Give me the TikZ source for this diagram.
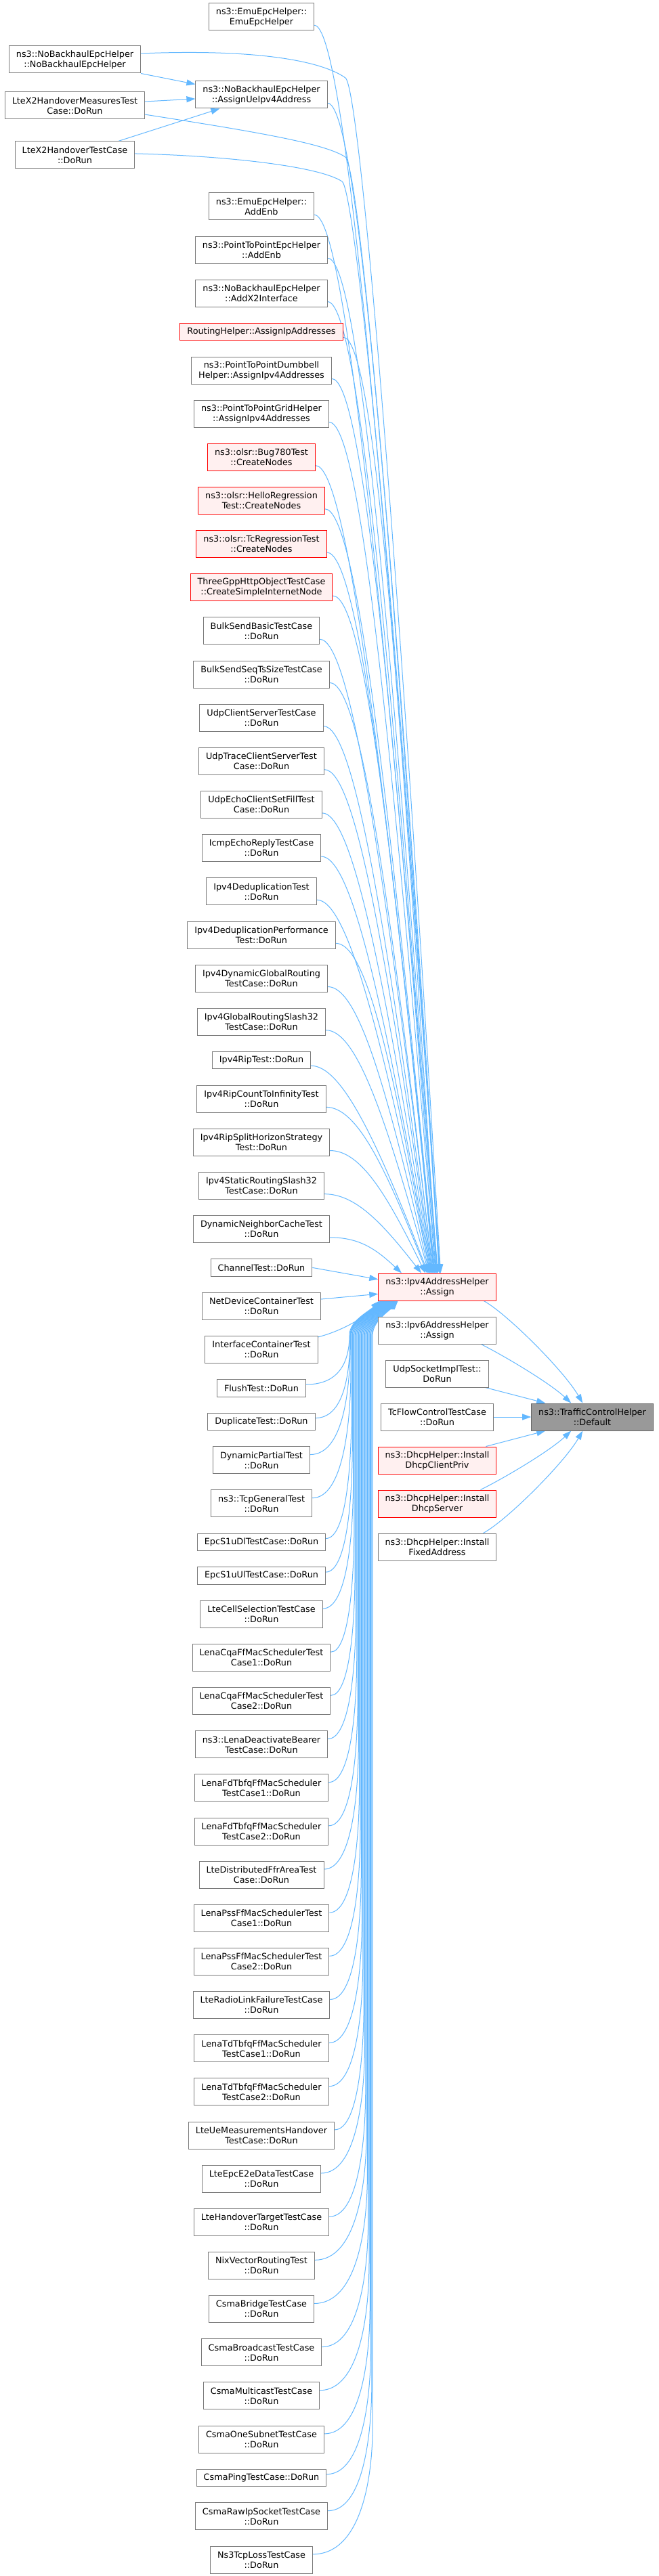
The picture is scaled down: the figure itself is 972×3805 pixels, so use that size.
\documentclass[tikz,border=0pt]{standalone}
\usepackage{fontspec}
\setmainfont{DejaVu Sans}
\usetikzlibrary{calc,arrows.meta}
\pgfdeclarelayer{bg}
\pgfsetlayers{bg,main}
\definecolor{eblue}{HTML}{63B8FF}
\definecolor{bgray}{HTML}{7A7A7A}
\definecolor{rfill}{HTML}{FFF0F0}
\definecolor{cfill}{HTML}{999999}
\definecolor{cdraw}{HTML}{666666}
\tikzset{
 nd/.style={draw=bgray, fill=white, line width=1pt, inner xsep=10.5pt, inner ysep=0pt,
   minimum height=40pt, align=center, font=\fontsize{12.8}{15}\selectfont, text=black},
 one/.style={minimum height=25.5pt},
 hl/.style={draw=red, fill=rfill},
 cur/.style={draw=cdraw, fill=cfill},
 edge/.style={draw=eblue, line width=1pt, -{Triangle[length=13pt,width=9pt]}},
}
\newcommand\UpEdge[2]{\draw[edge] let \p1=($(#1.north east)!0.8!(#1.south east)$), \p2=(ipv4.north west) in
  (\p1) .. controls ({\x1+45pt},\y1) and ({#2pt-0.6*(#2pt-\x1-45pt)},{\y1+0.35*(\y2-\y1)}) .. (#2pt,\y2);}
\newcommand\LowEdge[3]{\draw[edge] let \p1=($(#1.north east)!0.3!(#1.south east)$), \p2=(ipv4.south west) in
  (\p1) .. controls ({\x1+0.8*(#2pt-\x1)},\y1) and (#2pt,{\y1+110pt}) .. (#2pt,{\y1+190pt})
  -- (#2pt,{\y2-50pt}) .. controls (#2pt,{\y2-30pt}) and ({#3pt-0.35*(#3pt-#2pt)},{\y2-15pt}) .. (#3pt,\y2);}
\newcommand\LowNear[3]{\draw[edge] let \p1=($(#1.north east)!0.3!(#1.south east)$), \p2=(ipv4.south west) in
  (\p1) .. controls ({\x1+0.8*(#2pt-\x1)},\y1) and (#2pt,{\y1+0.5*(\y2-50pt-\y1)}) .. (#2pt,{\y2-50pt})
  .. controls (#2pt,{\y2-30pt}) and ({#3pt-0.35*(#3pt-#2pt)},{\y2-15pt}) .. (#3pt,\y2);}
\begin{document}
\begin{tikzpicture}[x=1pt,y=1pt]
\begin{pgfonlayer}{bg}
\fill[white] (0,0) rectangle (972,-3805);
\end{pgfonlayer}
\useasboundingbox (0,0) rectangle (972,-3805);

% column 0
\node[nd] (a1) at (110.5,-88) {ns3::NoBackhaulEpcHelper\\::NoBackhaulEpcHelper};
\node[nd] (a2) at (110.5,-156) {LteX2HandoverMeasuresTest\\Case::DoRun};
\node[nd] (a3) at (110.5,-229) {LteX2HandoverTestCase\\::DoRun};

% column 1
\node[nd] (c1) at (386,-25) {ns3::EmuEpcHelper::\\EmuEpcHelper};
\node[nd] (c2) at (386,-140) {ns3::NoBackhaulEpcHelper\\::AssignUeIpv4Address};
\node[nd] (c3) at (386,-305) {ns3::EmuEpcHelper::\\AddEnb};
\node[nd] (c4) at (386,-369.15) {ns3::PointToPointEpcHelper\\::AddEnb};
\node[nd] (c5) at (386,-433.3) {ns3::NoBackhaulEpcHelper\\::AddX2Interface};
\node[nd,one,hl] (c6) at (386,-490.2) {RoutingHelper::AssignIpAddresses};
\node[nd] (c7) at (386,-547.05) {ns3::PointToPointDumbbell\\Helper::AssignIpv4Addresses};
\node[nd] (c8) at (386,-611.2) {ns3::PointToPointGridHelper\\::AssignIpv4Addresses};
\node[nd,hl] (c9) at (386,-675.35) {ns3::olsr::Bug780Test\\::CreateNodes};
\node[nd,hl] (c10) at (386,-739.5) {ns3::olsr::HelloRegression\\Test::CreateNodes};
\node[nd,hl] (c11) at (386,-803.65) {ns3::olsr::TcRegressionTest\\::CreateNodes};
\node[nd,hl] (c12) at (386,-867.8) {ThreeGppHttpObjectTestCase\\::CreateSimpleInternetNode};
\node[nd] (c13) at (386,-931.95) {BulkSendBasicTestCase\\::DoRun};
\node[nd] (c14) at (386,-996.1) {BulkSendSeqTsSizeTestCase\\::DoRun};
\node[nd] (c15) at (386,-1060.25) {UdpClientServerTestCase\\::DoRun};
\node[nd] (c16) at (386,-1124.4) {UdpTraceClientServerTest\\Case::DoRun};
\node[nd] (c17) at (386,-1188.55) {UdpEchoClientSetFillTest\\Case::DoRun};
\node[nd] (c18) at (386,-1252.7) {IcmpEchoReplyTestCase\\::DoRun};
\node[nd] (c19) at (386,-1316.85) {Ipv4DeduplicationTest\\::DoRun};
\node[nd] (c20) at (386,-1381) {Ipv4DeduplicationPerformance\\Test::DoRun};
\node[nd] (c21) at (386,-1445.15) {Ipv4DynamicGlobalRouting\\TestCase::DoRun};
\node[nd] (c22) at (386,-1509.3) {Ipv4GlobalRoutingSlash32\\TestCase::DoRun};
\node[nd,one] (c23) at (386,-1566.2) {Ipv4RipTest::DoRun};
\node[nd] (c24) at (386,-1623.05) {Ipv4RipCountToInfinityTest\\::DoRun};
\node[nd] (c25) at (386,-1687.2) {Ipv4RipSplitHorizonStrategy\\Test::DoRun};
\node[nd] (c26) at (386,-1751.35) {Ipv4StaticRoutingSlash32\\TestCase::DoRun};
\node[nd] (c27) at (386,-1815.5) {DynamicNeighborCacheTest\\::DoRun};
\node[nd,one] (c28) at (386,-1872.4) {ChannelTest::DoRun};
\node[nd] (c29) at (386,-1929.25) {NetDeviceContainerTest\\::DoRun};
\node[nd] (c30) at (386,-1993.4) {InterfaceContainerTest\\::DoRun};
\node[nd,one] (c31) at (386,-2050.3) {FlushTest::DoRun};
\node[nd,one] (c32) at (386,-2099.9) {DuplicateTest::DoRun};
\node[nd] (c33) at (386,-2156.75) {DynamicPartialTest\\::DoRun};
\node[nd] (c34) at (386,-2220.9) {ns3::TcpGeneralTest\\::DoRun};
\node[nd,one] (c35) at (386,-2277.8) {EpcS1uDlTestCase::DoRun};
\node[nd,one] (c36) at (386,-2327.4) {EpcS1uUlTestCase::DoRun};
\node[nd] (c37) at (386,-2384.25) {LteCellSelectionTestCase\\::DoRun};
\node[nd] (c38) at (386,-2448.4) {LenaCqaFfMacSchedulerTest\\Case1::DoRun};
\node[nd] (c39) at (386,-2512.55) {LenaCqaFfMacSchedulerTest\\Case2::DoRun};
\node[nd] (c40) at (386,-2576.7) {ns3::LenaDeactivateBearer\\TestCase::DoRun};
\node[nd] (c41) at (386,-2640.85) {LenaFdTbfqFfMacScheduler\\TestCase1::DoRun};
\node[nd] (c42) at (386,-2705) {LenaFdTbfqFfMacScheduler\\TestCase2::DoRun};
\node[nd] (c43) at (386,-2769.15) {LteDistributedFfrAreaTest\\Case::DoRun};
\node[nd] (c44) at (386,-2833.3) {LenaPssFfMacSchedulerTest\\Case1::DoRun};
\node[nd] (c45) at (386,-2897.45) {LenaPssFfMacSchedulerTest\\Case2::DoRun};
\node[nd] (c46) at (386,-2961.6) {LteRadioLinkFailureTestCase\\::DoRun};
\node[nd] (c47) at (386,-3025.75) {LenaTdTbfqFfMacScheduler\\TestCase1::DoRun};
\node[nd] (c48) at (386,-3089.9) {LenaTdTbfqFfMacScheduler\\TestCase2::DoRun};
\node[nd] (c49) at (386,-3154.05) {LteUeMeasurementsHandover\\TestCase::DoRun};
\node[nd] (c50) at (386,-3218.2) {LteEpcE2eDataTestCase\\::DoRun};
\node[nd] (c51) at (386,-3282.35) {LteHandoverTargetTestCase\\::DoRun};
\node[nd] (c52) at (386,-3346.5) {NixVectorRoutingTest\\::DoRun};
\node[nd] (c53) at (386,-3410.65) {CsmaBridgeTestCase\\::DoRun};
\node[nd] (c54) at (386,-3474.8) {CsmaBroadcastTestCase\\::DoRun};
\node[nd] (c55) at (386,-3538.95) {CsmaMulticastTestCase\\::DoRun};
\node[nd] (c56) at (386,-3603.1) {CsmaOneSubnetTestCase\\::DoRun};
\node[nd,one] (c57) at (386,-3660) {CsmaPingTestCase::DoRun};
\node[nd] (c58) at (386,-3716.85) {CsmaRawIpSocketTestCase\\::DoRun};
\node[nd] (c59) at (386,-3781) {Ns3TcpLossTestCase\\::DoRun};

% column 2
\node[nd,hl] (ipv4) at (645.5,-1901) {ns3::Ipv4AddressHelper\\::Assign};
\node[nd] (ipv6) at (645.5,-1965) {ns3::Ipv6AddressHelper\\::Assign};
\node[nd] (udp) at (645.5,-2029) {UdpSocketImplTest::\\DoRun};
\node[nd] (tcf) at (645.5,-2093) {TcFlowControlTestCase\\::DoRun};
\node[nd,hl] (dcp) at (645.5,-2157) {ns3::DhcpHelper::Install\\DhcpClientPriv};
\node[nd,hl] (dsv) at (645.5,-2221) {ns3::DhcpHelper::Install\\DhcpServer};
\node[nd] (dfa) at (645.5,-2285) {ns3::DhcpHelper::Install\\FixedAddress};

% column 3
\node[nd,cur] (def) at (874.5,-2093) {ns3::TrafficControlHelper\\::Default};

\begin{pgfonlayer}{bg}
% column 0 -> AssignUeIpv4Address
\draw[edge] (a1.south east) -- ($(c2.north west)!0.12!(c2.south west)$);
\draw[edge] ($(a2.east)+(0,6)$) -- ($(c2.west)+(0,-6)$);
\draw[edge] ($(a3.north west)+(153,0)$) -- ($(c2.south west)+(36,0)$);
% column 0 -> Ipv4AddressHelper::Assign
\draw[edge] ($(a1.north east)!0.28!(a1.south east)$) .. controls (380,-72) and (475,-90) .. (510,-115)
  .. controls (530,-130) and (583,-735) .. ($(ipv4.north west)+(92.3,0)$);
\draw[edge] ($(a2.north east)!0.82!(a2.south east)$) .. controls (380,-195) and (480,-212) .. (510,-232)
  .. controls (530,-247) and (585,-840) .. ($(ipv4.north west)+(90.9,0)$);
\draw[edge] ($(a3.north east)!0.45!(a3.south east)$) .. controls (330,-230) and (470,-245) .. (505,-268)
  .. controls (525,-282) and (585,-880) .. ($(ipv4.north west)+(90.2,0)$);
% upper column 1 -> Ipv4 Assign
\UpEdge{c1}{650}
\UpEdge{c2}{648.6}
\UpEdge{c3}{646.5}
\UpEdge{c4}{645.8}
\UpEdge{c5}{645.1}
\UpEdge{c6}{644.4}
\UpEdge{c7}{643.7}
\UpEdge{c8}{643.0}
\UpEdge{c9}{642.3}
\UpEdge{c10}{641.6}
\UpEdge{c11}{640.9}
\UpEdge{c12}{640.2}
\UpEdge{c13}{639.5}
\UpEdge{c14}{638.8}
\UpEdge{c15}{638.1}
\UpEdge{c16}{637.4}
\UpEdge{c17}{636.7}
\UpEdge{c18}{636.0}
\UpEdge{c19}{635.3}
\UpEdge{c20}{634.6}
\UpEdge{c21}{633.9}
\UpEdge{c22}{633.0}
\UpEdge{c23}{632.0}
\UpEdge{c24}{630.5}
\UpEdge{c25}{628.0}
\UpEdge{c26}{622.0}
\UpEdge{c27}{593.0}
\draw[edge] (c28.east) -- ($(ipv4.north west)!0.225!(ipv4.south west)$);
\draw[edge] ($(c29.north east)!0.25!(c29.south east)$) -- ($(ipv4.north west)!0.75!(ipv4.south west)$);
% lower column 1 -> Ipv4 Assign
\draw[edge] ($(c30.north east)+(0,-2)$) .. controls (505,-1966) and (540,-1945) .. ($(ipv4.south west)+(2,0)$);
\LowNear{c31}{516}{561}
\LowNear{c32}{517}{562.5}
\LowNear{c33}{517.5}{564}
\LowEdge{c34}{518}{565}
\LowEdge{c35}{519.0}{566.0}
\LowEdge{c36}{520.3}{566.9}
\LowEdge{c37}{521.6}{567.8}
\LowEdge{c38}{522.9}{568.7}
\LowEdge{c39}{524.2}{569.6}
\LowEdge{c40}{525.5}{570.5}
\LowEdge{c41}{526.8}{571.4}
\LowEdge{c42}{528.1}{572.3}
\LowEdge{c43}{529.4}{573.2}
\LowEdge{c44}{530.7}{574.1}
\LowEdge{c45}{532.0}{575.0}
\LowEdge{c46}{533.3}{575.9}
\LowEdge{c47}{534.6}{576.8}
\LowEdge{c48}{535.9}{577.7}
\LowEdge{c49}{537.2}{578.6}
\LowEdge{c50}{538.5}{579.5}
\LowEdge{c51}{539.8}{580.4}
\LowEdge{c52}{541.1}{581.3}
\LowEdge{c53}{542.4}{582.2}
\LowEdge{c54}{543.7}{583.1}
\LowEdge{c55}{545.0}{584.0}
\LowEdge{c56}{546.3}{584.9}
\LowEdge{c57}{547.6}{585.8}
\LowEdge{c58}{548.9}{586.7}
\LowEdge{c59}{550.2}{587.6}
% column 2 -> Default
\draw[edge] ($(ipv4.south west)+(156,0)$) .. controls (748,-1940) and (833,-2025) .. ($(def.north west)+(76,0)$);
\draw[edge] ($(ipv6.south west)+(152,0)$) .. controls (745,-2003) and (812,-2043) .. ($(def.north west)+(59,0)$);
\draw[edge] ($(udp.south east)+(-5,0)$) -- ($(def.north west)+(21,0)$);
\draw[edge] (tcf.east) -- (def.west);
\draw[edge] ($(dcp.north east)+(-16,0)$) -- ($(def.south west)+(21,0)$);
\draw[edge] ($(dsv.north west)+(152,0)$) .. controls (745,-2183) and (812,-2143) .. ($(def.south west)+(59,0)$);
\draw[edge] ($(dfa.north west)+(156,0)$) .. controls (748,-2246) and (833,-2161) .. ($(def.south west)+(76,0)$);
\end{pgfonlayer}
\end{tikzpicture}
\end{document}
